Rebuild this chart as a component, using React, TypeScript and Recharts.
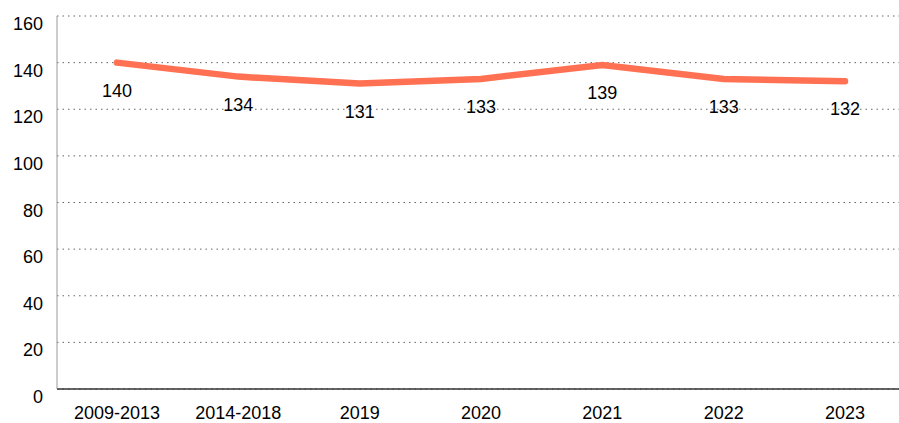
import { LineChart, Line, XAxis, YAxis, CartesianGrid, LabelList } from 'recharts';

const periods = ['2009-2013', '2014-2018', '2019', '2020', '2021', '2022', '2023'];
const values = [140, 134, 131, 133, 139, 133, 132];
const yTicks = [0, 20, 40, 60, 80, 100, 120, 140, 160];

const data = periods.map((period, i) => ({ period, value: values[i] }));

const font = 'Liberation Sans, Arial, sans-serif';

// value label sits centred below each point
const ValueLabel = (props: any) => {
  const { x, y, value } = props;
  return (
    <text x={x} y={y + 34} textAnchor="middle" fontSize={18} fill="#000" fontFamily={font}>
      {value}
    </text>
  );
};

const YTick = (props: any) => {
  const { x, y, payload } = props;
  return (
    <text x={x} y={y + 14} textAnchor="end" fontSize={18} fill="#000" fontFamily={font}>
      {payload.value}
    </text>
  );
};

export default function App() {
  return (
    <div
      style={{
        position: 'absolute',
        left: 0,
        top: 0,
        width: 899,
        height: 423,
        overflow: 'hidden',
        background: '#fff',
      }}
    >
      <LineChart
        width={906}
        height={423}
        data={data}
        margin={{ top: 16, right: 0, bottom: 0, left: 0 }}
      >
        <CartesianGrid
          vertical={false}
          stroke="#666"
          strokeDasharray="1.5 4"
        />
        <XAxis
          dataKey="period"
          height={34}
          padding={{ left: 60, right: 61 }}
          axisLine={{ stroke: '#333', strokeWidth: 1.5 }}
          tickLine={false}
          tickSize={0}
          tickMargin={17}
          tick={{ fontSize: 18, fill: '#000', fontFamily: font }}
          interval={0}
        />
        <YAxis
          width={57}
          domain={[0, 160]}
          ticks={yTicks}
          interval={0}
          axisLine={{ stroke: '#999' }}
          tickLine={false}
          tickSize={0}
          tickMargin={14}
          tick={<YTick />}
        />
        <Line
          type="linear"
          dataKey="value"
          stroke="#FF7152"
          strokeWidth={6.5}
          strokeLinecap="round"
          dot={false}
          activeDot={false}
          isAnimationActive={false}
        >
          <LabelList dataKey="value" content={<ValueLabel />} />
        </Line>
      </LineChart>
    </div>
  );
}
